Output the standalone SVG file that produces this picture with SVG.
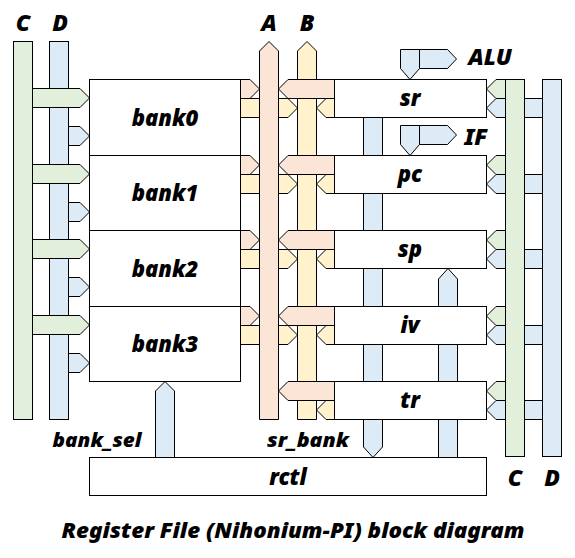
<svg xmlns="http://www.w3.org/2000/svg" width="575" height="558" viewBox="0 0 575 558">
<style>
.g{fill:#e2efda;stroke:#000;stroke-width:1}
.b{fill:#ddebf7;stroke:#000;stroke-width:1}
.p{fill:#fbe5d6;stroke:#000;stroke-width:1}
.y{fill:#fff2cc;stroke:#000;stroke-width:1}
.box{fill:#fff;stroke:#000;stroke-width:1}
text{font-family:"Noto Sans","Noto Sans CJK JP",sans-serif;font-weight:900;font-style:italic;fill:#000;text-anchor:middle}
.lbl{font-size:22px}
.bus{font-size:23px}
.sm{font-size:20px}
</style>
<g id="connectors">
  <!-- left buses -->
  <rect class="b" x="49.5" y="41.5" width="19" height="378"/>
  <polygon class="b" points="68.5,126.5 80,126.5 89.5,136 80,145.5 68.5,145.5"/>
  <polygon class="b" points="68.5,202.5 80,202.5 89.5,212 80,221.5 68.5,221.5"/>
  <polygon class="b" points="68.5,277.5 80,277.5 89.5,287 80,296.5 68.5,296.5"/>
  <polygon class="b" points="68.5,353.5 80,353.5 89.5,363 80,372.5 68.5,372.5"/>
  <rect class="g" x="13.5" y="41.5" width="19" height="378"/>
  <polygon class="g" points="32.5,88.5 80,88.5 89.5,98 80,107.5 32.5,107.5"/>
  <polygon class="g" points="32.5,164.5 80,164.5 89.5,174 80,183.5 32.5,183.5"/>
  <polygon class="g" points="32.5,239.5 80,239.5 89.5,249 80,258.5 32.5,258.5"/>
  <polygon class="g" points="32.5,315.5 80,315.5 89.5,325 80,334.5 32.5,334.5"/>
  <!-- bank to B (under A) -->
  <polygon class="y" points="240.5,98.5 288,98.5 297.5,108 288,117.5 240.5,117.5"/>
  <polygon class="y" points="240.5,174.5 288,174.5 297.5,184 288,193.5 240.5,193.5"/>
  <polygon class="y" points="240.5,249.5 288,249.5 297.5,259 288,268.5 240.5,268.5"/>
  <polygon class="y" points="240.5,325.5 288,325.5 297.5,335 288,344.5 240.5,344.5"/>
  <!-- A bus -->
  <polygon class="p" points="259.5,419.5 259.5,51 269,41.5 278.5,51 278.5,419.5"/>
  <!-- bank to A -->
  <polygon class="p" points="240.5,79.5 250,79.5 259.5,89 250,98.5 240.5,98.5"/>
  <polygon class="p" points="240.5,155.5 250,155.5 259.5,165 250,174.5 240.5,174.5"/>
  <polygon class="p" points="240.5,230.5 250,230.5 259.5,240 250,249.5 240.5,249.5"/>
  <polygon class="p" points="240.5,306.5 250,306.5 259.5,316 250,325.5 240.5,325.5"/>
  <!-- B bus -->
  <polygon class="y" points="297.5,419.5 297.5,51 307,41.5 316.5,51 316.5,419.5"/>
  <!-- reg to A (over B) -->
  <polygon class="p" points="334.5,79.5 288,79.5 278.5,89 288,98.5 334.5,98.5"/>
  <polygon class="p" points="334.5,155.5 288,155.5 278.5,165 288,174.5 334.5,174.5"/>
  <polygon class="p" points="334.5,230.5 288,230.5 278.5,240 288,249.5 334.5,249.5"/>
  <polygon class="p" points="334.5,306.5 288,306.5 278.5,316 288,325.5 334.5,325.5"/>
  <polygon class="p" points="334.5,381.5 288,381.5 278.5,391 288,400.5 334.5,400.5"/>
  <!-- reg to B -->
  <polygon class="y" points="334.5,98.5 326,98.5 316.5,108 326,117.5 334.5,117.5"/>
  <polygon class="y" points="334.5,174.5 326,174.5 316.5,184 326,193.5 334.5,193.5"/>
  <polygon class="y" points="334.5,249.5 326,249.5 316.5,259 326,268.5 334.5,268.5"/>
  <polygon class="y" points="334.5,325.5 326,325.5 316.5,335 326,344.5 334.5,344.5"/>
  <polygon class="y" points="334.5,400.5 326,400.5 316.5,410 326,419.5 334.5,419.5"/>
  <!-- vertical internal buses -->
  <polygon class="b" points="363.5,117.5 382.5,117.5 382.5,447 373,457.5 363.5,447"/>
  <polygon class="b" points="438.5,457.5 438.5,279 448,268.5 457.5,279 457.5,457.5"/>
  <polygon class="b" points="155.5,457.5 155.5,391 165,381.5 174.5,391 174.5,457.5"/>
  <!-- ALU / IF -->
  <polygon class="b" points="400.5,49.5 419.5,49.5 419.5,68.5 410,79.5 400.5,68.5"/>
  <polygon class="b" points="419.5,49.5 447.5,49.5 456.5,59 447.5,68.5 419.5,68.5"/>
  <polygon class="b" points="400.5,125.5 419.5,125.5 419.5,144.5 410,155.5 400.5,144.5"/>
  <polygon class="b" points="419.5,125.5 447.5,125.5 456.5,135 447.5,144.5 419.5,144.5"/>
  <!-- right buses -->
  <rect class="b" x="542.5" y="79.5" width="19" height="377"/>
  <polygon class="b" points="542.5,98.5 496,98.5 486.5,108 496,117.5 542.5,117.5"/>
  <polygon class="b" points="542.5,174.5 496,174.5 486.5,184 496,193.5 542.5,193.5"/>
  <polygon class="b" points="542.5,249.5 496,249.5 486.5,259 496,268.5 542.5,268.5"/>
  <polygon class="b" points="542.5,325.5 496,325.5 486.5,335 496,344.5 542.5,344.5"/>
  <polygon class="b" points="542.5,400.5 496,400.5 486.5,410 496,419.5 542.5,419.5"/>
  <rect class="g" x="505.5" y="79.5" width="19" height="377"/>
  <polygon class="g" points="505.5,79.5 496,79.5 486.5,89 496,98.5 505.5,98.5"/>
  <polygon class="g" points="505.5,155.5 496,155.5 486.5,165 496,174.5 505.5,174.5"/>
  <polygon class="g" points="505.5,230.5 496,230.5 486.5,240 496,249.5 505.5,249.5"/>
  <polygon class="g" points="505.5,306.5 496,306.5 486.5,316 496,325.5 505.5,325.5"/>
  <polygon class="g" points="505.5,381.5 496,381.5 486.5,391 496,400.5 505.5,400.5"/>
</g>
<g id="bank0"><rect class="box" x="89.5" y="79.5" width="151" height="76"/><text class="lbl" x="165" y="126">bank0</text></g>
<g id="bank1"><rect class="box" x="89.5" y="155.5" width="151" height="75"/><text class="lbl" x="165" y="201">bank1</text></g>
<g id="bank2"><rect class="box" x="89.5" y="230.5" width="151" height="76"/><text class="lbl" x="165" y="277">bank2</text></g>
<g id="bank3"><rect class="box" x="89.5" y="306.5" width="151" height="75"/><text class="lbl" x="165" y="352">bank3</text></g>
<g id="sr"><rect class="box" x="334.5" y="79.5" width="152" height="38"/><text class="lbl" x="410" y="106">sr</text></g>
<g id="pc"><rect class="box" x="334.5" y="155.5" width="152" height="38"/><text class="lbl" x="410" y="182">pc</text></g>
<g id="sp"><rect class="box" x="334.5" y="230.5" width="152" height="38"/><text class="lbl" x="410" y="257">sp</text></g>
<g id="iv"><rect class="box" x="334.5" y="306.5" width="152" height="38"/><text class="lbl" x="410" y="333">iv</text></g>
<g id="tr"><rect class="box" x="334.5" y="381.5" width="152" height="38"/><text class="lbl" x="410" y="408">tr</text></g>
<g id="rctl"><rect class="box" x="89.5" y="457.5" width="397" height="38"/><text class="lbl" x="288" y="485">rctl</text></g>
<g id="labels">
  <text class="bus" x="23" y="31">C</text>
  <text class="bus" x="60" y="31">D</text>
  <text class="bus" x="269" y="31">A</text>
  <text class="bus" x="307" y="31">B</text>
  <text class="bus" x="490" y="65">ALU</text>
  <text class="bus" x="476" y="145">IF</text>
  <text class="bus" x="515" y="486">C</text>
  <text class="bus" x="552" y="486">D</text>
  <text class="sm" x="97" y="447" textLength="89" lengthAdjust="spacingAndGlyphs">bank_sel</text>
  <text class="sm" x="308" y="447" textLength="82" lengthAdjust="spacingAndGlyphs">sr_bank</text>
  <text x="293" y="538" style="font-size:21px" textLength="463" lengthAdjust="spacingAndGlyphs">Register File (Nihonium-PI) block diagram</text>
</g>
</svg>
